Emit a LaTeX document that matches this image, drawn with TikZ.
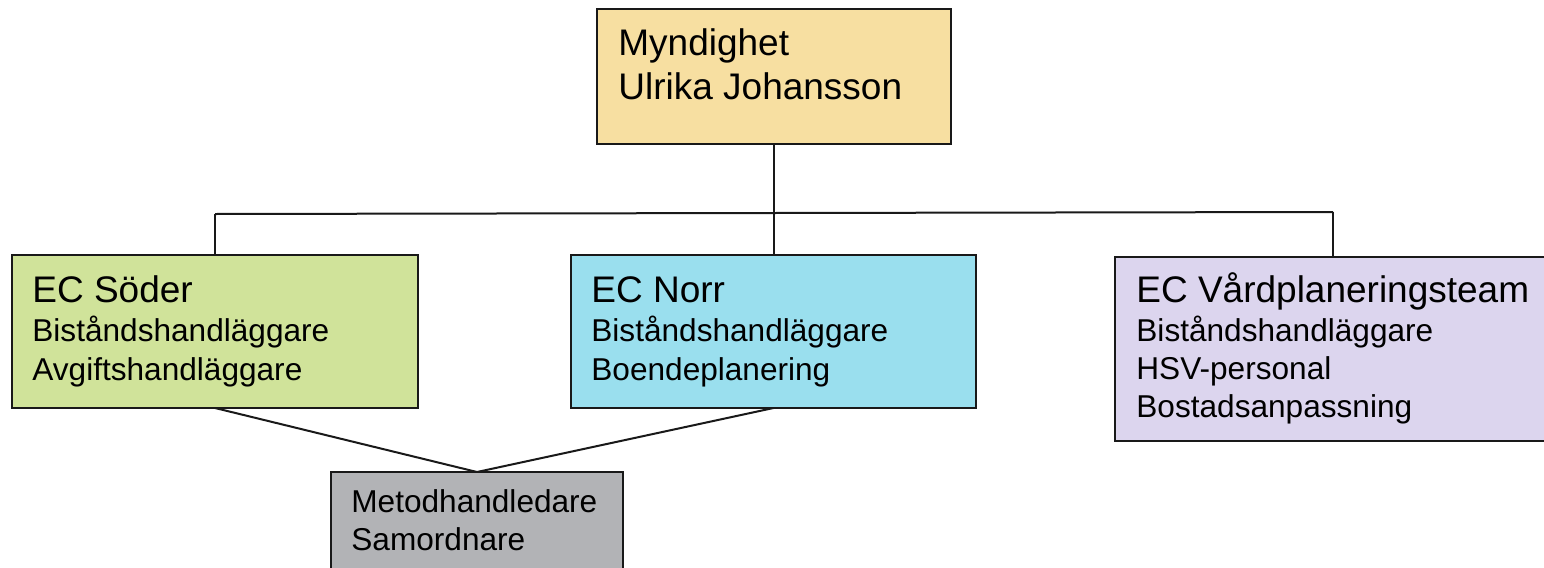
\documentclass[tikz,border=0pt]{standalone}
\usepackage{fontspec}
\setmainfont{Liberation Sans}
\definecolor{cmyn}{HTML}{F7DFA1}
\definecolor{csod}{HTML}{D0E39A}
\definecolor{cnor}{HTML}{9ADFEE}
\definecolor{cvar}{HTML}{DCD5EE}
\definecolor{cmet}{HTML}{B2B3B6}
\begin{document}
\begin{tikzpicture}[x=0.5pt,y=-0.5pt,
  box/.style={draw=black!90,line width=1pt,anchor=north west,inner sep=0pt,outer sep=0pt},
  ttl/.style={anchor=base west,inner sep=0pt,font=\fontsize{18.5pt}{22pt}\selectfont},
  sub/.style={anchor=base west,inner sep=0pt,font=\fontsize{15.8pt}{19pt}\selectfont},
  conn/.style={line width=1pt,draw=black!90}]
\useasboundingbox (0,0) rectangle (1544,568);
\node[box,fill=cmyn,minimum width=177pt,minimum height=67.5pt] (myn) at (597,9) {};
\node[box,fill=csod,minimum width=203pt,minimum height=76.5pt] (sod) at (12,255) {};
\node[box,fill=cnor,minimum width=202.5pt,minimum height=76.5pt] (nor) at (571,255) {};
\node[box,fill=cvar,minimum width=222.5pt,minimum height=92pt] (var) at (1115,257) {};
\node[box,fill=cmet,minimum width=146pt,minimum height=60pt] (met) at (331,472) {};
% texts
\node[ttl] (t1) at (618,55) {Myndighet};
\node[ttl] (t2) at (618,99) {Ulrika Johansson};
\node[ttl] (s1) at (32,302) {EC Söder};
\node[sub] (s2) at (32,341) {Biståndshandläggare};
\node[sub] (s3) at (32,380) {Avgiftshandläggare};
\node[ttl] (n1) at (591,302) {EC Norr};
\node[sub] (n2) at (591,341) {Biståndshandläggare};
\node[sub] (n3) at (591,380) {Boendeplanering};
\node[ttl] (v1) at (1136,302) {EC Vårdplaneringsteam};
\node[sub] (v2) at (1136,341) {Biståndshandläggare};
\node[sub] (v3) at (1136,379) {HSV-personal};
\node[sub] (v4) at (1136,417) {Bostadsanpassning};
\node[sub] (m1) at (351,512) {Metodhandledare};
\node[sub] (m2) at (351,550) {Samordnare};
% connectors
\coordinate (bl) at (215,214);
\coordinate (br) at (1333,212);
\coordinate (bm) at (774,213);
\coordinate (bn) at (773.5,213);
\coordinate (bv) at (1333,257);
\draw[conn] (bl) -- (br);
\draw[conn] (myn.south) -- (bm);
\draw[conn] (sod.north) -- (bl);
\draw[conn] (nor.north) -- (bn);
\draw[conn] (bv) -- (br);
\draw[conn] (sod.south) -- (met.north);
\draw[conn] (nor.south) -- (met.north);
\end{tikzpicture}
\end{document}
